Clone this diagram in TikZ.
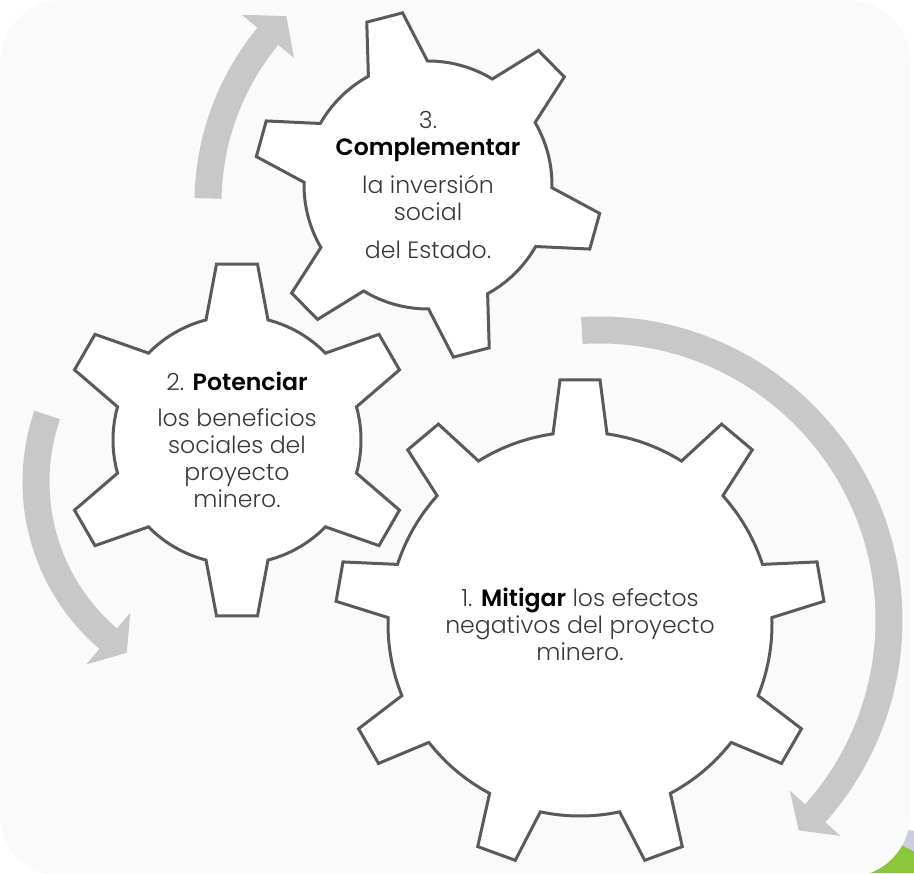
\documentclass[tikz,border=0pt]{standalone}
\usepackage{fontspec}
\setmainfont{Poppins}[UprightFont={* Light}, BoldFont={* SemiBold}]
\usepackage{tikz}
\usetikzlibrary{calc}

\definecolor{bgfill}{HTML}{FAFAFA}
\definecolor{gearedge}{HTML}{5A5A5A}
\definecolor{arrowgray}{HTML}{C8C8C8}
\definecolor{textgray}{HTML}{383838}
\definecolor{leafgreen}{HTML}{8CC63E}
\definecolor{lavender}{HTML}{CDCDE0}

\tikzset{
	gearline/.style={draw=gearedge, line width=1.5pt, fill=white, line join=miter},
	geartext/.style={align=center, text=textgray, font=\fontsize{11.8}{13.5}\selectfont, inner sep=0pt},
	shaft/.style={draw=arrowgray, line width=13.5pt},
}

% center, teeth, first tooth angle, tip radius, root radius, tip half width, base half width
\newcommand{\drawgear}[7]{
	\pgfmathsetmacro{\gstep}{360/#2}
	\pgfmathsetmacro{\gtip}{asin(#6/#4)}
	\pgfmathsetmacro{\gbase}{asin(#7/#5)}
	\draw[gearline, shift={(#1)}] (#3-\gbase:#5)
	\foreach \k [evaluate=\k as \a using #3+(\k-1)*\gstep] in {1,...,#2}{
		-- (\a-\gtip:#4) -- (\a+\gtip:#4) -- (\a+\gbase:#5)
		arc[start angle=\a+\gbase, end angle=\a+\gstep-\gbase, radius=#5]
	} -- cycle;
}

% center, radius, tail angle, head angle, tip angle
\newcommand{\bendarrow}[5]{
	\pgfmathsetmacro{\rout}{#2+34}
	\pgfmathsetmacro{\rin}{#2-34}
	\draw[shaft, shift={(#1)}] (#3:#2) arc[start angle=#3, end angle={#4+0.3*(#5-#4)}, radius=#2];
	\fill[arrowgray, shift={(#1)}] (#4:\rout) -- (#5:#2) -- (#4:\rin) -- cycle;
}

\begin{document}
\begin{tikzpicture}[x=0.5pt, y=0.5pt]
	\useasboundingbox (0,0) rectangle (914,873);

	% corner bits outside the card
	\fill[leafgreen] (862,0) -- (914,0) -- (914,22) -- (893,32) -- cycle;
	\fill[lavender] (893,32) -- (914,22) -- (914,42) -- (903,44) -- cycle;
	\fill[bgfill, rounded corners=31pt] (0,-4) rectangle (910,873);

	\coordinate (c1) at (580,249);
	\coordinate (c2) at (237,433);
	\coordinate (c3) at (428,688);

	\bendarrow{470,670}{262}{179}{140.5}{134.5}
	\bendarrow{242,391}{206}{161}{229.5}{236}
	\bendarrow{599,253}{290}{93.4}{-41.8}{-46.5}

	\drawgear{c1}{9}{90}{245}{192}{20}{27}
	\drawgear{c2}{6}{90}{177}{124}{20.5}{31}
	\drawgear{c3}{6}{104.5}{174}{124}{18.5}{30.5}

	\node[geartext] (t1) at (c1) {1. \textcolor{black}{\textbf{Mitigar}} los efectos\\ negativos del proyecto\\ minero.};
	\node[geartext] (t2) at (c2) {2. \textcolor{black}{\textbf{Potenciar}}\\[4.5pt] los beneficios\\ sociales del\\ proyecto\\ minero.};
	\node[geartext] (t3) at (c3) {3.\\ \textcolor{black}{\textbf{Complementar}}\\[5.5pt] la inversión\\ social\\[5.5pt] del Estado.};
\end{tikzpicture}
\end{document}
